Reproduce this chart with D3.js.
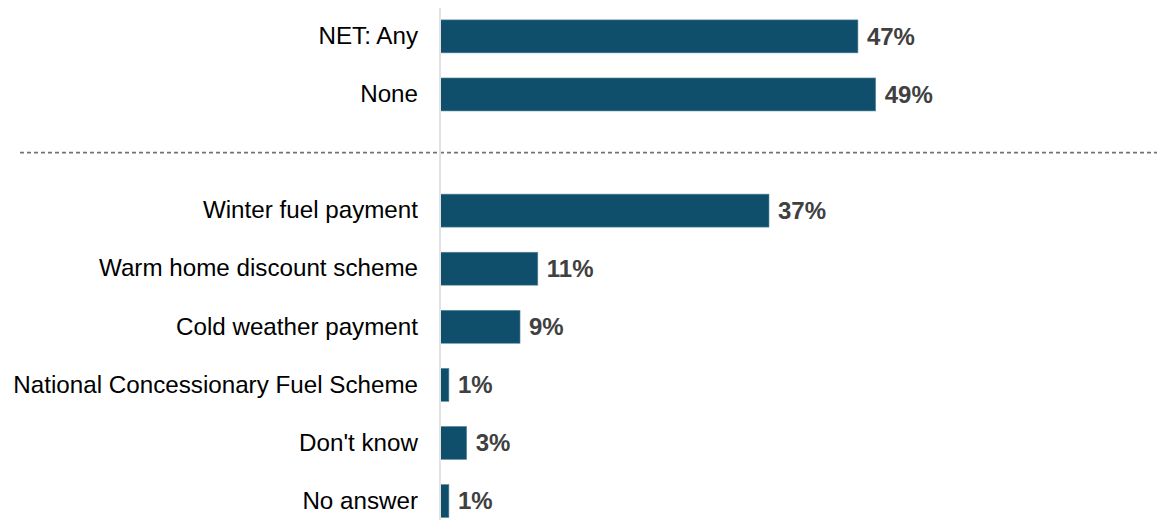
<!DOCTYPE html>
<html>
<head>
<meta charset="utf-8">
<script src="https://cdn.jsdelivr.net/npm/d3@7"></script>
<style>
  html, body { margin: 0; padding: 0; background: #ffffff; }
  svg { display: block; }
</style>
</head>
<body>
<div id="chart"></div>
<script>
// Survey responses: support schemes received
const categories = [
  "NET: Any",
  "None",
  "",                       // spacer row holding the dashed divider
  "Winter fuel payment",
  "Warm home discount scheme",
  "Cold weather payment",
  "National Concessionary Fuel Scheme",
  "Don't know",
  "No answer"
];
const values = [47, 49, null, 37, 11, 9, 1, 3, 1];
const valueLabels = ["47%", "49%", "", "37%", "11%", "9%", "1%", "3%", "1%"];

const width = 1157, height = 520;
const axisX = 440;
const fontFamily = "Arial, 'Liberation Sans', sans-serif";

const svg = d3.select("#chart").append("svg")
  .attr("width", width)
  .attr("height", height);

const x = d3.scaleLinear().domain([0, 50]).range([axisX, axisX + 444.6]);

const y = d3.scaleBand()
  .domain(d3.range(categories.length))
  .range([-5.2, 542.6])
  .paddingInner(0.432)
  .paddingOuter(0.432);

const rows = categories.map((c, i) => ({ c, v: values[i], label: valueLabels[i], i }));
const dataRows = rows.filter(d => d.v !== null);
const spacer = rows.find(d => d.v === null);

// dashed divider between the summary rows and the detail rows
const divY = y(spacer.i) + y.bandwidth() / 2;
svg.append("line")
  .attr("x1", 20).attr("x2", 1157)
  .attr("y1", divY).attr("y2", divY)
  .attr("stroke", "#737373")
  .attr("stroke-width", 1.7)
  .attr("stroke-dasharray", "4,3");

// bars
svg.append("g").selectAll("rect")
  .data(dataRows)
  .join("rect")
  .attr("x", x(0))
  .attr("y", d => y(d.i))
  .attr("width", d => x(d.v) - x(0))
  .attr("height", y.bandwidth())
  .attr("fill", "#0f4f6c")
  .attr("stroke", "#5f8ca2")
  .attr("stroke-width", 0.6);

// vertical axis line
svg.append("line")
  .attr("x1", axisX).attr("x2", axisX)
  .attr("y1", 8).attr("y2", 520)
  .attr("stroke", "#e2e2e2")
  .attr("stroke-width", 2);

// category labels
const yAxis = d3.axisLeft(y)
  .tickSize(0)
  .tickPadding(22)
  .tickFormat(i => categories[i]);

const gAxis = svg.append("g")
  .attr("transform", `translate(${axisX},0)`)
  .call(yAxis);
gAxis.select(".domain").remove();
gAxis.selectAll("text")
  .attr("font-family", fontFamily)
  .attr("font-size", 24.2)
  .attr("fill", "#000000");

// value labels
svg.append("g").selectAll("text")
  .data(dataRows)
  .join("text")
  .attr("x", d => x(d.v) + 9)
  .attr("y", d => y(d.i) + y.bandwidth() / 2)
  .attr("dy", "0.35em")
  .attr("font-family", fontFamily)
  .attr("font-size", 24)
  .attr("font-weight", "bold")
  .attr("fill", "#404040")
  .text(d => d.label);
</script>
</body>
</html>
